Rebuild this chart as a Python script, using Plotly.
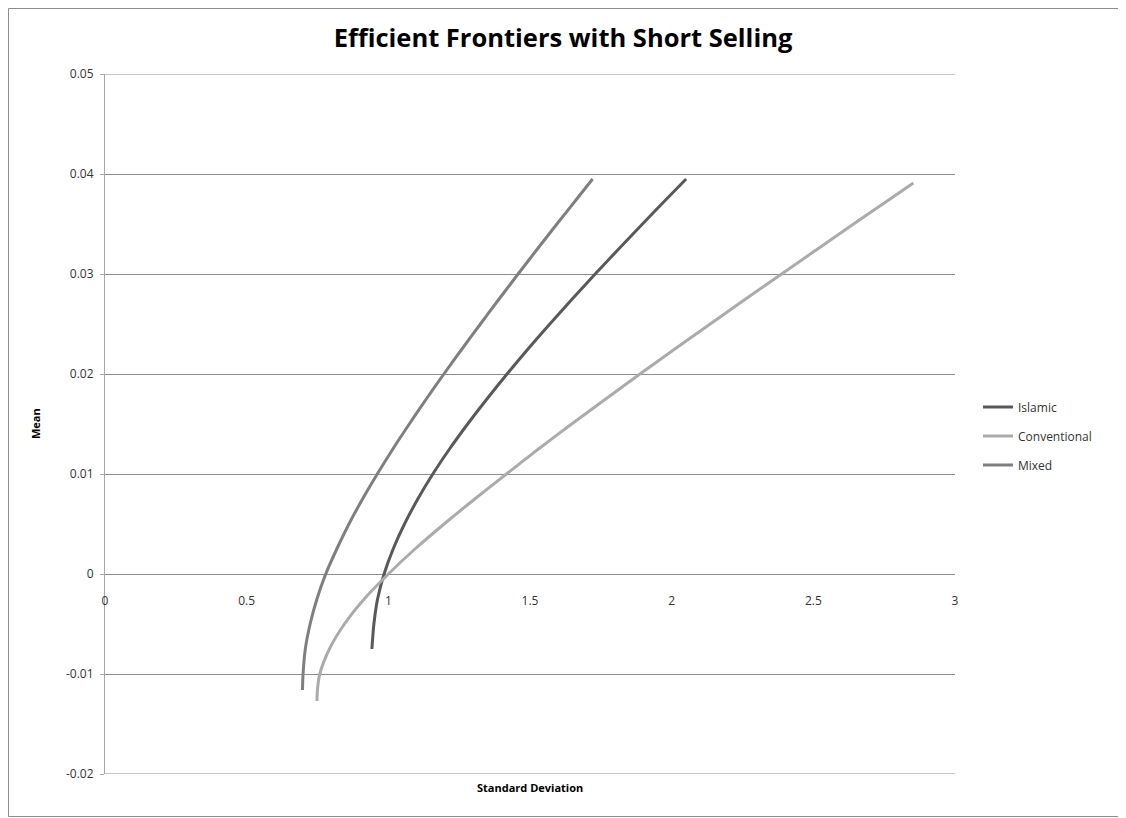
import plotly.graph_objects as go

# Mean values (y) and standard deviations (x)
islamic_mean = [-0.0075, -0.005, -0.0025, 0.0, 0.0025, 0.005, 0.0075, 0.01, 0.0125, 0.015,
                0.0175, 0.02, 0.0225, 0.025, 0.0275, 0.03, 0.0325, 0.035, 0.0375, 0.0395]
islamic_sd = [0.942, 0.949, 0.962, 0.985, 1.017, 1.057, 1.104, 1.157, 1.216, 1.280,
              1.348, 1.419, 1.493, 1.570, 1.649, 1.730, 1.813, 1.897, 1.982, 2.051]

conventional_mean = [-0.0127, -0.0115, -0.01, -0.0075, -0.005, -0.0025, 0.0, 0.0025, 0.005,
                     0.0075, 0.01, 0.0125, 0.015, 0.0175, 0.02, 0.0225, 0.025, 0.0275, 0.03,
                     0.0325, 0.035, 0.0375, 0.0391]
conventional_sd = [0.748, 0.750, 0.758, 0.792, 0.845, 0.915, 1.000, 1.094, 1.197,
                   1.305, 1.417, 1.530, 1.647, 1.767, 1.888, 2.011, 2.136, 2.261, 2.388,
                   2.515, 2.642, 2.771, 2.853]

mixed_mean = [-0.0116, -0.01, -0.0075, -0.005, -0.0025, 0.0, 0.0025, 0.005, 0.0075, 0.01,
              0.0125, 0.015, 0.0175, 0.02, 0.0225, 0.025, 0.0275, 0.03, 0.0325, 0.035,
              0.0375, 0.0395]
mixed_sd = [0.697, 0.699, 0.707, 0.724, 0.748, 0.779, 0.818, 0.861, 0.909, 0.961,
            1.016, 1.074, 1.134, 1.196, 1.260, 1.325, 1.391, 1.458, 1.526, 1.595,
            1.665, 1.721]

x_ticks = [0, 0.5, 1, 1.5, 2, 2.5, 3]
x_tick_labels = ["0", "0.5", "1", "1.5", "2", "2.5", "3"]
y_ticks = [-0.02, -0.01, 0, 0.01, 0.02, 0.03, 0.04, 0.05]
y_tick_labels = ["-0.02", "-0.01", "0", "0.01", "0.02", "0.03", "0.04", "0.05"]

FONT = "Open Sans"
TXT = "#333333"
GRID = "#8d8d8d"

fig = go.Figure()
series = [
    ("Islamic", islamic_sd, islamic_mean, "#595959"),
    ("Conventional", conventional_sd, conventional_mean, "#ababab"),
    ("Mixed", mixed_sd, mixed_mean, "#7f7f7f"),
]
for name, xs, ys, col in series:
    fig.add_trace(go.Scatter(
        x=xs, y=ys, mode="lines", name=name, legendgroup=name,
        line=dict(color=col, width=3, shape="spline", smoothing=0.8),
    ))

# the page body adds an 8px offset; lay out in page pixels minus 8
OFF = 8
W, H = 1126 - OFF, 818 - OFF
L, R, T, B = 105 - OFF, 955 - OFF, 74 - OFF, 774 - OFF
pw, ph = R - L, B - T


def px(xp):
    return (xp - OFF - L) / pw


def py(yp):
    return (B - (yp - OFF)) / ph


fig.update_layout(
    width=W, height=H,
    margin=dict(l=L, r=W - R, t=T, b=H - B),
    paper_bgcolor="white", plot_bgcolor="white",
    font=dict(family=FONT, size=12, color=TXT),
    title=dict(text="<b>Efficient Frontiers with Short Selling</b>",
               x=(563 - OFF) / W, xanchor="center", y=1 - (38 - OFF) / H, yanchor="middle",
               font=dict(family=FONT, size=25.5, color="#000000")),
    showlegend=True,
    legend=dict(x=px(978), xanchor="left", y=py(436), yanchor="middle",
                font=dict(family=FONT, size=12, color=TXT),
                tracegroupgap=10, bgcolor="rgba(0,0,0,0)"),
    xaxis=dict(range=[0, 3], tickvals=x_ticks, ticktext=x_tick_labels,
               showgrid=False, zeroline=False, showline=True, linecolor=GRID,
               linewidth=1, anchor="free", position=py(574),
               ticks="", ticklabelstandoff=16, layer="below traces",
               tickfont=dict(family=FONT, size=12, color=TXT)),
    yaxis=dict(range=[-0.02, 0.05], tickvals=y_ticks, ticktext=y_tick_labels,
               showgrid=True, gridcolor=GRID, gridwidth=1, zeroline=False,
               showline=True, linecolor="#a6a6a6", linewidth=1,
               ticks="outside", ticklen=4, tickcolor="#a6a6a6",
               ticklabelstandoff=4, layer="below traces",
               tickfont=dict(family=FONT, size=12, color=TXT)),
)

# gridlines at the top and bottom edges of the value range
for yv in (y_ticks[0], y_ticks[-1]):
    fig.add_shape(type="line", xref="paper", yref="y", x0=0, x1=1, y0=yv, y1=yv,
                  line=dict(color=GRID, width=1), layer="below")

# axis titles
fig.add_annotation(text="<b>Standard Deviation</b>", xref="paper", yref="paper",
                   x=0.5, y=py(787), xanchor="center", yanchor="middle",
                   showarrow=False, font=dict(family=FONT, size=11, color="#000000"))
fig.add_annotation(text="<b>Mean</b>", xref="paper", yref="paper",
                   x=px(35), y=py(424), xanchor="center", yanchor="middle",
                   textangle=-90, showarrow=False,
                   font=dict(family=FONT, size=11, color="#000000"))

# chart border
fig.add_shape(type="rect", xref="paper", yref="paper",
              x0=px(8.5), x1=px(1123.5), y0=py(816.5), y1=py(8.5),
              line=dict(color=GRID, width=1), fillcolor="rgba(0,0,0,0)", layer="below")

fig.write_html("out.html")
